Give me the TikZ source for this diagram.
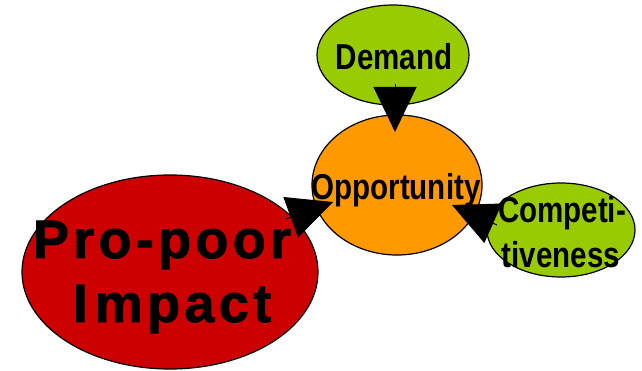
\documentclass[tikz,border=0pt]{standalone}
\usepackage{fontspec}
\setmainfont{Liberation Sans}
\newfontfamily\narrowfont[FakeStretch=0.82]{Liberation Sans}
\newfontfamily\widefont[LetterSpace=8,FakeBold=1.5]{Liberation Sans}
\usetikzlibrary{shapes.geometric,arrows.meta}
\definecolor{leafgreen}{HTML}{99CC00}
\definecolor{opporange}{HTML}{FF9900}
\definecolor{propred}{HTML}{CC0000}
\begin{document}
\begin{tikzpicture}[x=1pt,y=-1pt,
  blob/.style={ellipse, draw=black, line width=1.2pt, inner sep=0pt},
  lbl/.style={anchor=base, inner sep=0pt, font=\narrowfont\bfseries\fontsize{36}{36}\selectfont},
  biglbl/.style={anchor=base, inner sep=0pt, font=\widefont\bfseries\fontsize{54}{54}\selectfont},
  bigarrow/.style={-{Triangle[length=45pt,width=43pt]}, line width=1pt, black}]
\useasboundingbox (0,0) rectangle (642,371);
% ellipses
\node[blob, fill=propred, minimum width=296pt, minimum height=194pt] (impact) at (170,272) {};
\node[blob, fill=leafgreen, minimum width=152pt, minimum height=100pt] (demand) at (393,55) {};
\node[blob, fill=opporange, minimum width=170pt, minimum height=140pt] (opp) at (397,185) {};
\node[blob, fill=leafgreen, minimum width=148pt, minimum height=94pt] (comp) at (561,230) {};
% arrows
\coordinate (dA) at (395,84);
\coordinate (dB) at (395,132);
\coordinate (cA) at (497,225);
\coordinate (cB) at (452,205);
\coordinate (iA) at (286,219);
\coordinate (iB) at (333,202);
\draw[bigarrow] (dA) -- (dB);
\draw[bigarrow] (cA) -- (cB);
\draw[bigarrow] (iA) -- (iB);
% labels
\node[lbl] (tdemand) at (394,70) {Demand};
\node[lbl] (topp) at (396,200) {Opportunity};
\node[lbl] (tcomp1) at (562,223) {Competi-};
\node[lbl] (tcomp2) at (561,267) {tiveness};
\node[biglbl] (timp1) at (162,258) {Pro-poor};
\node[biglbl] (timp2) at (172,322) {I\kern7pt mpact};
\end{tikzpicture}
\end{document}
